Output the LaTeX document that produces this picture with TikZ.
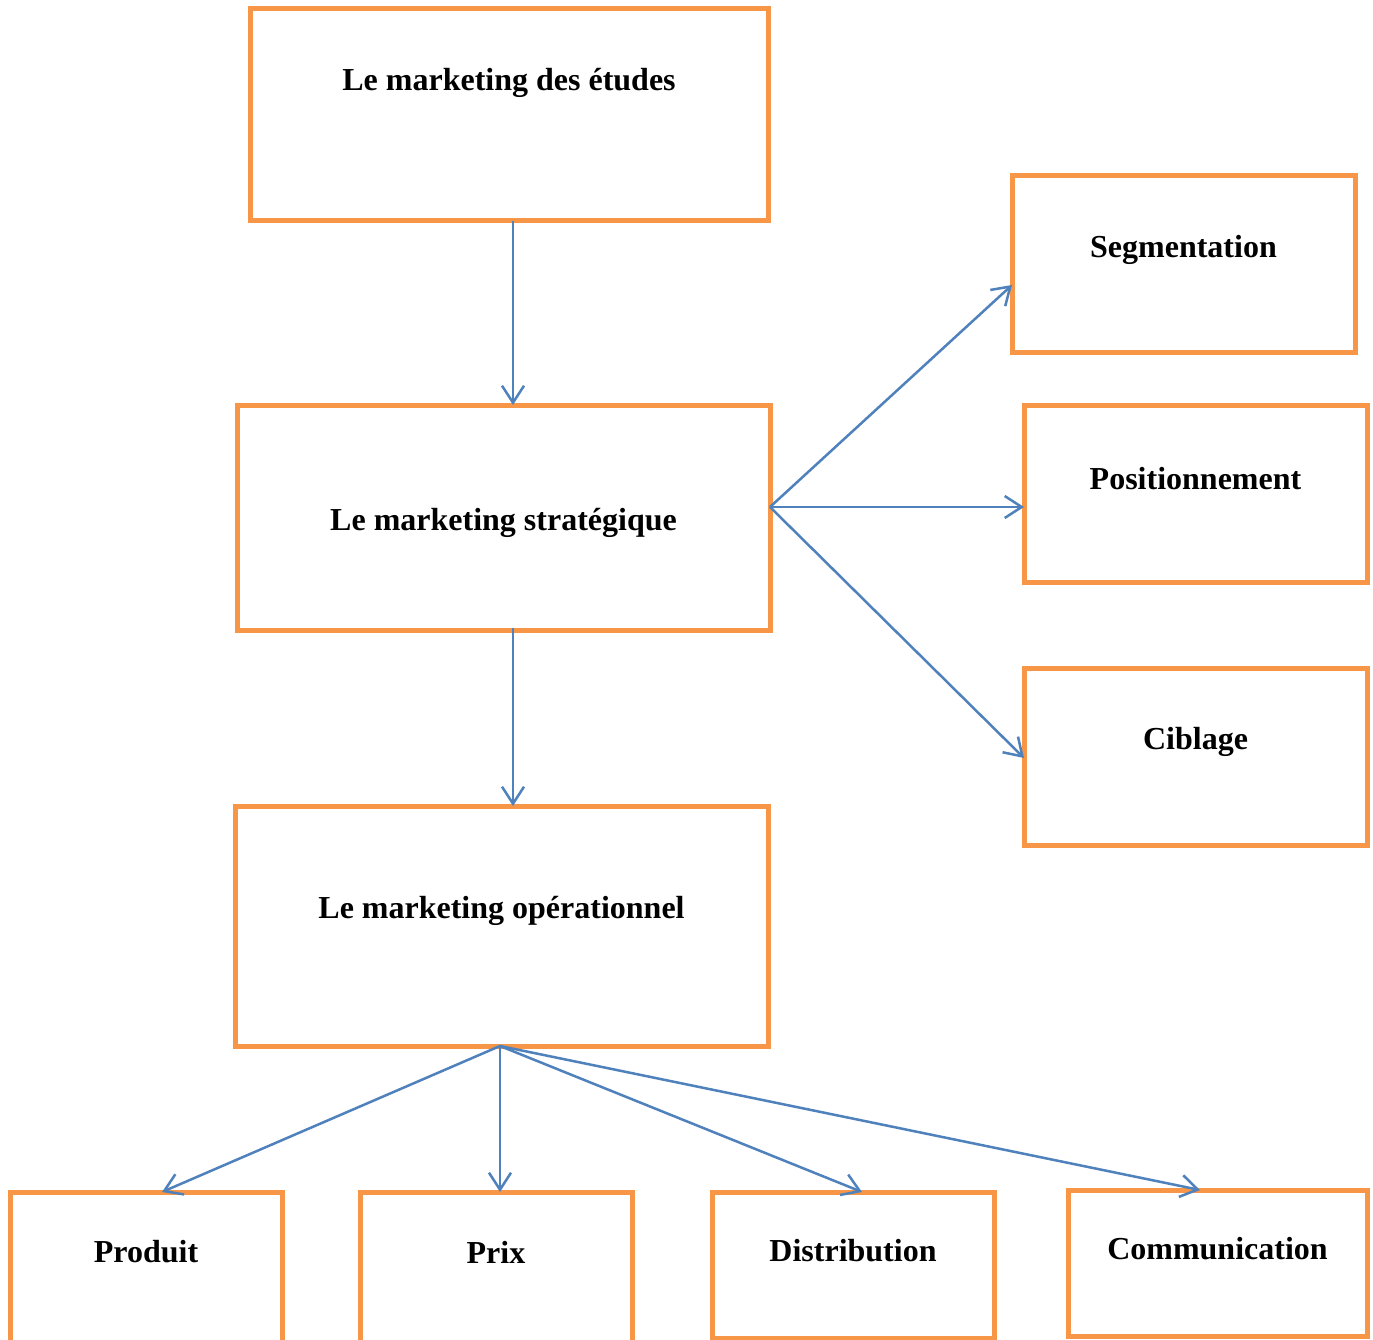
\documentclass[tikz,border=0pt]{standalone}
\usepackage{fontspec}
\setmainfont{Liberation Serif}
\usetikzlibrary{arrows.meta}
\definecolor{boxorange}{HTML}{F79646}
\definecolor{linkblue}{HTML}{4F81BD}
\begin{document}
\begin{tikzpicture}[x=1pt,y=-1pt,
  box/.style={draw=boxorange,line width=5pt,rectangle,inner sep=0pt,outer sep=0pt},
  lbl/.style={font=\fontsize{32}{36}\selectfont\bfseries,inner sep=0pt,anchor=center},
  arr/.style={draw=linkblue,line width=2.5pt,-{Straight Barb[length=17pt,width=22pt,line width=2.5pt]}}]
\useasboundingbox[fill=white] (0,0) rectangle (1373,1340);
\clip (0,0) rectangle (1373,1340);

% main column
\node[box,minimum width=518pt,minimum height=212pt] (etudes) at (509,115) {};
\node[lbl] (etudesT) at (509,83) {Le marketing des études};
\node[box,minimum width=533pt,minimum height=225pt] (strat) at (503.5,517.5) {};
\node[lbl] (stratT) at (503.5,523) {Le marketing stratégique};
\node[box,minimum width=533pt,minimum height=240pt] (oper) at (501.5,926) {};
\node[lbl] (operT) at (501.5,911) {Le marketing opérationnel};

% strategic choices
\node[box,minimum width=343pt,minimum height=176pt] (seg) at (1183.5,264) {};
\node[lbl] (segT) at (1183.5,250) {Segmentation};
\node[box,minimum width=343pt,minimum height=177pt] (pos) at (1195.5,493.5) {};
\node[lbl] (posT) at (1195.5,479) {Positionnement};
\node[box,minimum width=343pt,minimum height=177pt] (cib) at (1195.5,756.5) {};
\node[lbl] (cibT) at (1195.5,742) {Ciblage};

% marketing mix
\node[box,minimum width=272pt,minimum height=190pt] (prod) at (146,1287) {};
\node[lbl] (prodT) at (146,1252) {Produit};
\node[box,minimum width=272pt,minimum height=190pt] (prix) at (496,1287) {};
\node[lbl] (prixT) at (496,1252) {Prix};
\node[box,minimum width=282pt,minimum height=146pt] (dist) at (853,1265) {};
\node[lbl] (distT) at (853,1251) {Distribution};
\node[box,minimum width=299pt,minimum height=146pt] (comm) at (1217.5,1263) {};
\node[lbl] (commT) at (1217.5,1249) {Communication};

% connectors
\draw[arr] ([xshift=4pt]etudes.south) -- ([xshift=4pt]etudes.south |- strat.north);
\draw[arr] ([xshift=9.5pt,yshift=2pt]strat.south) -- ([xshift=9.5pt]strat.south |- oper.north);

\coordinate (hubS) at ([yshift=10.5pt]strat.east);
\draw[arr] (hubS) -- ([yshift=-21pt]seg.west);
\draw[arr] (hubS) -- (hubS -| pos.west);
\draw[arr] (hubS) -- ([yshift=-1.5pt]cib.west);

\coordinate (hubO) at ([xshift=-1.5pt]oper.south);
\draw[arr] (hubO) -- ([xshift=16pt]prod.north);
\draw[arr] (hubO) -- ([xshift=4pt]prix.north);
\draw[arr] (hubO) -- ([xshift=9pt]dist.north);
\draw[arr] (hubO) -- ([xshift=-17.5pt]comm.north);
\end{tikzpicture}
\end{document}
